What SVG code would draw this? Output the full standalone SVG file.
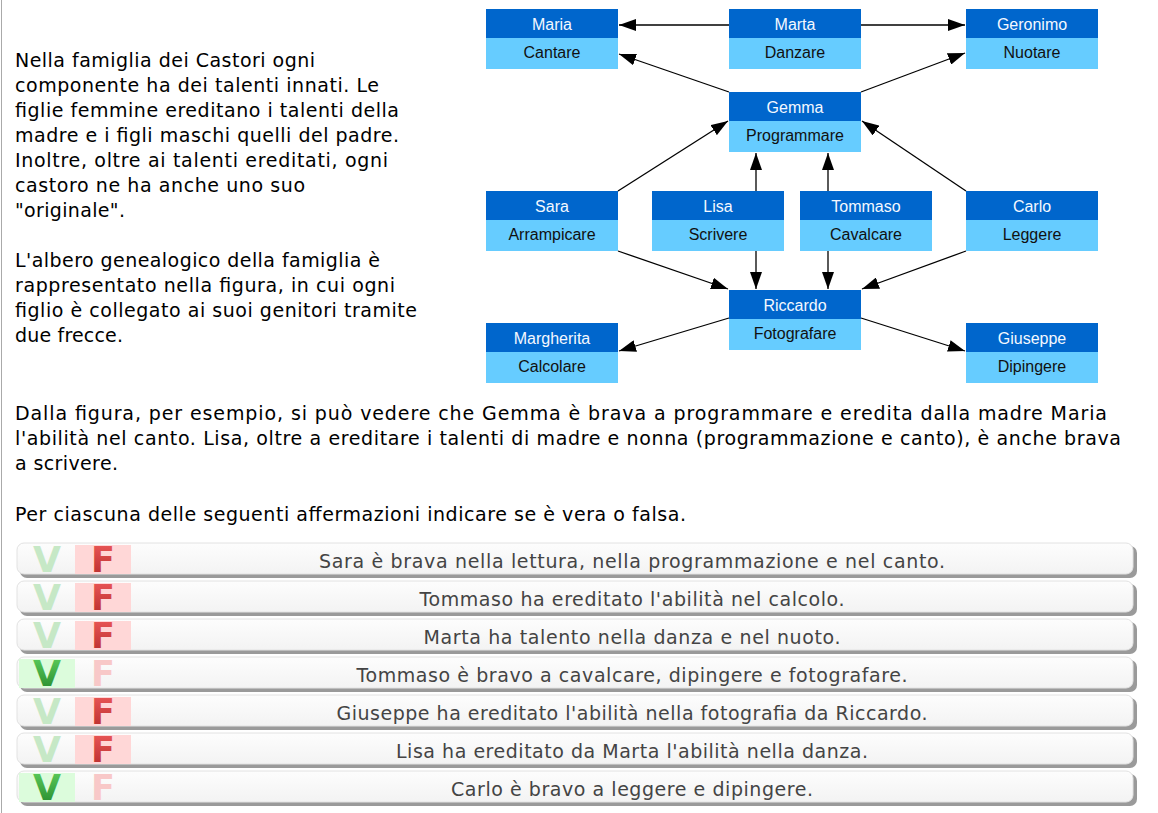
<svg xmlns="http://www.w3.org/2000/svg" width="1158" height="813" viewBox="0 0 1158 813">
<defs>
<style>
.p{font-family:"DejaVu Sans",Verdana,sans-serif;font-size:19px;fill:#000}
.st{font-family:"DejaVu Sans",Verdana,sans-serif;font-size:19px;fill:#444;text-anchor:middle}
.hd{fill:#0066cc}
.bd{fill:#66ccff}
.ht{font-family:"Liberation Sans",Arial,sans-serif;font-size:16px;fill:#f4f8ff;text-anchor:middle}
.bt{font-family:"Liberation Sans",Arial,sans-serif;font-size:16px;fill:#111;text-anchor:middle}
.edge{stroke:#000;stroke-width:1.3;fill:none;marker-end:url(#ah)}
.vf{font-family:"DejaVu Sans",Verdana,sans-serif;font-weight:bold;font-size:35px;text-anchor:middle}
.vOn{fill:url(#gV)}
.vOff{fill:#c6e8c6}
.fOn{fill:url(#gF)}
.fOff{fill:#f8c8c8}
.gbg{fill:#dcfcdc}
.rbg{fill:#ffd7d7}
.rowsh{fill:#9a9a9a}
.row{fill:url(#gRow);stroke:#e2e2e2;stroke-width:1}
</style>
<marker id="ah" viewBox="0 0 17 12" markerWidth="17" markerHeight="12" refX="17" refY="6" orient="auto" markerUnits="userSpaceOnUse">
<path d="M0,0 L17,6 L0,12 z" fill="#000"/>
</marker>
<linearGradient id="gV" x1="0" y1="0" x2="0" y2="1">
<stop offset="0" stop-color="#5fd05f"/>
<stop offset="1" stop-color="#23862a"/>
</linearGradient>
<linearGradient id="gF" x1="0" y1="0" x2="0" y2="1">
<stop offset="0" stop-color="#ee5a5a"/>
<stop offset="1" stop-color="#b52a2a"/>
</linearGradient>
<linearGradient id="gRow" x1="0" y1="0" x2="0" y2="1">
<stop offset="0" stop-color="#fdfdfd"/>
<stop offset="1" stop-color="#f3f3f3"/>
</linearGradient>
</defs>
<rect x="0" y="0" width="1158" height="813" fill="#fff"/>
<rect x="1" y="0" width="1" height="813" fill="#aaaaaa"/>

<g id="intro">
<text class="p" x="15" y="67" textLength="300" lengthAdjust="spacing">Nella famiglia dei Castori ogni</text>
<text class="p" x="15" y="92" textLength="364" lengthAdjust="spacing">componente ha dei talenti innati. Le</text>
<text class="p" x="15" y="117" textLength="384" lengthAdjust="spacing">figlie femmine ereditano i talenti della</text>
<text class="p" x="15" y="142" textLength="384" lengthAdjust="spacing">madre e i figli maschi quelli del padre.</text>
<text class="p" x="15" y="167" textLength="373" lengthAdjust="spacing">Inoltre, oltre ai talenti ereditati, ogni</text>
<text class="p" x="15" y="192" textLength="290" lengthAdjust="spacing">castoro ne ha anche uno suo</text>
<text class="p" x="15" y="217" textLength="110" lengthAdjust="spacing">"originale".</text>
<text class="p" x="15" y="267" textLength="365" lengthAdjust="spacing">L'albero genealogico della famiglia è</text>
<text class="p" x="15" y="292" textLength="380" lengthAdjust="spacing">rappresentato nella figura, in cui ogni</text>
<text class="p" x="15" y="317" textLength="402" lengthAdjust="spacing">figlio è collegato ai suoi genitori tramite</text>
<text class="p" x="15" y="342" textLength="108" lengthAdjust="spacing">due frecce.</text>
<text class="p" x="15" y="420" textLength="1092" lengthAdjust="spacing">Dalla figura, per esempio, si può vedere che Gemma è brava a programmare e eredita dalla madre Maria</text>
<text class="p" x="15" y="445" textLength="1106" lengthAdjust="spacing">l'abilità nel canto. Lisa, oltre a ereditare i talenti di madre e nonna (programmazione e canto), è anche brava</text>
<text class="p" x="15" y="470" textLength="103" lengthAdjust="spacing">a scrivere.</text>
<text class="p" x="15" y="521" textLength="671" lengthAdjust="spacing">Per ciascuna delle seguenti affermazioni indicare se è vera o falsa.</text>
</g>

<g id="connectors">
<line class="edge" x1="729" y1="25" x2="619" y2="25"/>
<line class="edge" x1="861" y1="25" x2="965" y2="25"/>
<line class="edge" x1="729" y1="92" x2="619" y2="54"/>
<line class="edge" x1="861" y1="92" x2="965" y2="53"/>
<line class="edge" x1="618" y1="191" x2="728" y2="121"/>
<line class="edge" x1="756" y1="191" x2="756" y2="153"/>
<line class="edge" x1="828" y1="191" x2="828" y2="153"/>
<line class="edge" x1="966" y1="191" x2="862" y2="121"/>
<line class="edge" x1="618" y1="251" x2="728" y2="289"/>
<line class="edge" x1="756" y1="251" x2="756" y2="289"/>
<line class="edge" x1="828" y1="251" x2="828" y2="289"/>
<line class="edge" x1="966" y1="251" x2="862" y2="289"/>
<line class="edge" x1="729" y1="318" x2="619" y2="351"/>
<line class="edge" x1="861" y1="318" x2="965" y2="351"/>
</g>

<g id="maria"><rect class="hd" x="486" y="9" width="132" height="29"/><rect class="bd" x="486" y="38" width="132" height="31"/><text class="ht" x="552" y="30">Maria</text><text class="bt" x="552" y="58">Cantare</text></g>
<g id="marta"><rect class="hd" x="729" y="9" width="132" height="29"/><rect class="bd" x="729" y="38" width="132" height="31"/><text class="ht" x="795" y="30">Marta</text><text class="bt" x="795" y="58">Danzare</text></g>
<g id="geronimo"><rect class="hd" x="966" y="9" width="132" height="29"/><rect class="bd" x="966" y="38" width="132" height="31"/><text class="ht" x="1032" y="30">Geronimo</text><text class="bt" x="1032" y="58">Nuotare</text></g>
<g id="gemma"><rect class="hd" x="729" y="92" width="132" height="29"/><rect class="bd" x="729" y="121" width="132" height="31"/><text class="ht" x="795" y="113">Gemma</text><text class="bt" x="795" y="141">Programmare</text></g>
<g id="sara"><rect class="hd" x="486" y="191" width="132" height="29"/><rect class="bd" x="486" y="220" width="132" height="31"/><text class="ht" x="552" y="212">Sara</text><text class="bt" x="552" y="240">Arrampicare</text></g>
<g id="lisa"><rect class="hd" x="652" y="191" width="132" height="29"/><rect class="bd" x="652" y="220" width="132" height="31"/><text class="ht" x="718" y="212">Lisa</text><text class="bt" x="718" y="240">Scrivere</text></g>
<g id="tommaso"><rect class="hd" x="800" y="191" width="132" height="29"/><rect class="bd" x="800" y="220" width="132" height="31"/><text class="ht" x="866" y="212">Tommaso</text><text class="bt" x="866" y="240">Cavalcare</text></g>
<g id="carlo"><rect class="hd" x="966" y="191" width="132" height="29"/><rect class="bd" x="966" y="220" width="132" height="31"/><text class="ht" x="1032" y="212">Carlo</text><text class="bt" x="1032" y="240">Leggere</text></g>
<g id="riccardo"><rect class="hd" x="729" y="290" width="132" height="29"/><rect class="bd" x="729" y="319" width="132" height="31"/><text class="ht" x="795" y="311">Riccardo</text><text class="bt" x="795" y="339">Fotografare</text></g>
<g id="margherita"><rect class="hd" x="486" y="323" width="132" height="29"/><rect class="bd" x="486" y="352" width="132" height="31"/><text class="ht" x="552" y="344">Margherita</text><text class="bt" x="552" y="372">Calcolare</text></g>
<g id="giuseppe"><rect class="hd" x="966" y="323" width="132" height="29"/><rect class="bd" x="966" y="352" width="132" height="31"/><text class="ht" x="1032" y="344">Giuseppe</text><text class="bt" x="1032" y="372">Dipingere</text></g>

<g id="row1">
<rect class="rowsh" x="20" y="546" width="1117" height="32" rx="7"/>
<rect class="row" x="17" y="543" width="1116" height="31" rx="7"/>
<rect class="rbg" x="75" y="545" width="56" height="29"/>
<text class="vf vOff" x="47" y="572" textLength="28" lengthAdjust="spacingAndGlyphs">V</text><text class="vf fOn" x="103" y="572">F</text>
<text class="st" x="632" y="568" textLength="626" lengthAdjust="spacing">Sara è brava nella lettura, nella programmazione e nel canto.</text>
</g>
<g id="row2">
<rect class="rowsh" x="20" y="584" width="1117" height="32" rx="7"/>
<rect class="row" x="17" y="581" width="1116" height="31" rx="7"/>
<rect class="rbg" x="75" y="583" width="56" height="29"/>
<text class="vf vOff" x="47" y="610" textLength="28" lengthAdjust="spacingAndGlyphs">V</text><text class="vf fOn" x="103" y="610">F</text>
<text class="st" x="632" y="606" textLength="425" lengthAdjust="spacing">Tommaso ha ereditato l'abilità nel calcolo.</text>
</g>
<g id="row3">
<rect class="rowsh" x="20" y="622" width="1117" height="32" rx="7"/>
<rect class="row" x="17" y="619" width="1116" height="31" rx="7"/>
<rect class="rbg" x="75" y="621" width="56" height="29"/>
<text class="vf vOff" x="47" y="648" textLength="28" lengthAdjust="spacingAndGlyphs">V</text><text class="vf fOn" x="103" y="648">F</text>
<text class="st" x="632" y="644" textLength="417" lengthAdjust="spacing">Marta ha talento nella danza e nel nuoto.</text>
</g>
<g id="row4">
<rect class="rowsh" x="20" y="660" width="1117" height="32" rx="7"/>
<rect class="row" x="17" y="657" width="1116" height="31" rx="7"/>
<rect class="gbg" x="19" y="659" width="56" height="29"/>
<text class="vf vOn" x="47" y="686" textLength="28" lengthAdjust="spacingAndGlyphs">V</text><text class="vf fOff" x="103" y="686">F</text>
<text class="st" x="632" y="682" textLength="551" lengthAdjust="spacing">Tommaso è bravo a cavalcare, dipingere e fotografare.</text>
</g>
<g id="row5">
<rect class="rowsh" x="20" y="698" width="1117" height="32" rx="7"/>
<rect class="row" x="17" y="695" width="1116" height="31" rx="7"/>
<rect class="rbg" x="75" y="697" width="56" height="29"/>
<text class="vf vOff" x="47" y="724" textLength="28" lengthAdjust="spacingAndGlyphs">V</text><text class="vf fOn" x="103" y="724">F</text>
<text class="st" x="632" y="720" textLength="591" lengthAdjust="spacing">Giuseppe ha ereditato l'abilità nella fotografia da Riccardo.</text>
</g>
<g id="row6">
<rect class="rowsh" x="20" y="736" width="1117" height="32" rx="7"/>
<rect class="row" x="17" y="733" width="1116" height="31" rx="7"/>
<rect class="rbg" x="75" y="735" width="56" height="29"/>
<text class="vf vOff" x="47" y="762" textLength="28" lengthAdjust="spacingAndGlyphs">V</text><text class="vf fOn" x="103" y="762">F</text>
<text class="st" x="632" y="758" textLength="472" lengthAdjust="spacing">Lisa ha ereditato da Marta l'abilità nella danza.</text>
</g>
<g id="row7">
<rect class="rowsh" x="20" y="774" width="1117" height="32" rx="7"/>
<rect class="row" x="17" y="771" width="1116" height="31" rx="7"/>
<rect class="gbg" x="19" y="773" width="56" height="29"/>
<text class="vf vOn" x="47" y="800" textLength="28" lengthAdjust="spacingAndGlyphs">V</text><text class="vf fOff" x="103" y="800">F</text>
<text class="st" x="632" y="796" textLength="362" lengthAdjust="spacing">Carlo è bravo a leggere e dipingere.</text>
</g>
</svg>
